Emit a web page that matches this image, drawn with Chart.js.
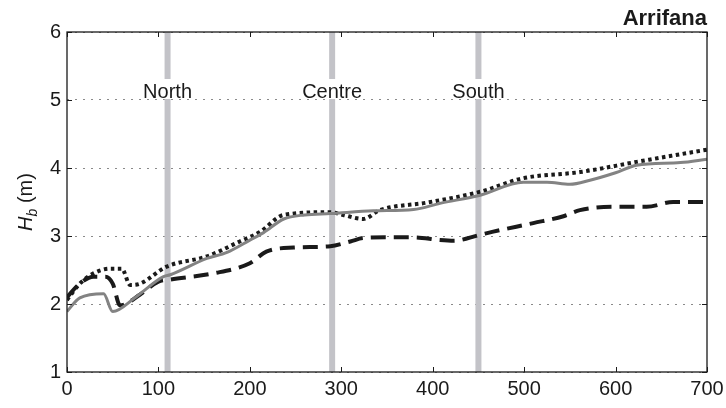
<!DOCTYPE html>
<html>
<head>
<meta charset="utf-8">
<script src="https://cdn.jsdelivr.net/npm/chart.js@4/dist/chart.umd.min.js"></script>
<style>
  html, body { margin: 0; padding: 0; background: #fff; }
  #chart { display: block; }
</style>
</head>
<body>
<canvas id="chart" width="726" height="408"></canvas>
<script>
// Data (x = alongshore distance, y = Hb in m)
const solidX = [0, 14, 40, 50, 75, 105, 113, 153, 175, 200, 215, 237, 260, 288, 335, 379, 408, 452, 499, 525, 550, 572, 600, 623, 671, 700];
const solidY = [1.89, 2.09, 2.15, 1.89, 2.10, 2.40, 2.43, 2.67, 2.76, 2.94, 3.05, 3.25, 3.31, 3.33, 3.37, 3.39, 3.48, 3.60, 3.79, 3.79, 3.76, 3.82, 3.93, 4.04, 4.08, 4.13];

const dottedX = [0, 14, 29, 47, 60, 69, 80, 109, 153, 189, 211, 237, 288, 302, 324, 342, 393, 452, 499, 561, 623, 700];
const dottedY = [2.06, 2.30, 2.45, 2.52, 2.52, 2.28, 2.30, 2.55, 2.70, 2.92, 3.06, 3.31, 3.35, 3.31, 3.25, 3.38, 3.49, 3.65, 3.85, 3.94, 4.09, 4.27];

const dashedX = [0, 14, 29, 42, 50, 58, 80, 100, 113, 160, 200, 218, 248, 288, 310, 324, 353, 379, 408, 423, 450, 465, 510, 543, 561, 598, 634, 663, 700];
const dashedY = [2.10, 2.30, 2.40, 2.40, 2.30, 1.98, 2.14, 2.33, 2.36, 2.45, 2.60, 2.77, 2.83, 2.85, 2.92, 2.97, 2.98, 2.98, 2.94, 2.93, 3.01, 3.06, 3.19, 3.29, 3.38, 3.43, 3.43, 3.50, 3.50];

// Section markers
const sectionNames = ['North', 'Centre', 'South'];
const sectionX = [110, 290, 450];

const xTicks = [0, 100, 200, 300, 400, 500, 600, 700];
const yTicks = [1, 2, 3, 4, 5, 6];
const title = 'Arrifana';

const FONT = '"Liberation Sans", Arial, Helvetica, sans-serif';
const INK = '#1a1a1a';

function toPoints(xs, ys) {
    return xs.map((x, i) => ({ x: x, y: ys[i] }));
}

// Gray vertical bands, one dataset each
const bandSets = sectionX.map(x => ({
    data: [{ x: x, y: 1 }, { x: x, y: 6 }],
    borderColor: '#c3c3c8',
    borderWidth: 6,
    pointRadius: 0,
    order: 10
}));

// Box, inward ticks, section labels, title and y label
const decorPlugin = {
    id: 'decor',
    afterDatasetsDraw(chart) {
        const ctx = chart.ctx;
        const area = chart.chartArea;
        const xs = chart.scales.x;
        const ys = chart.scales.y;

        // section labels on white boxes
        ctx.save();
        ctx.font = '20px ' + FONT;
        ctx.textAlign = 'center';
        ctx.textBaseline = 'alphabetic';
        const labelY = ys.getPixelForValue(5) - 2;
        sectionNames.forEach((name, i) => {
            const px = xs.getPixelForValue(sectionX[i]);
            const w = ctx.measureText(name).width;
            ctx.fillStyle = '#fff';
            ctx.fillRect(px - w / 2 - 2, labelY - 19, w + 4, 20);
            ctx.fillStyle = INK;
            ctx.fillText(name, px, labelY);
        });
        ctx.restore();

        // frame
        ctx.save();
        ctx.strokeStyle = INK;
        ctx.lineWidth = 1.3;
        ctx.strokeRect(area.left, area.top, area.right - area.left, area.bottom - area.top);

        // inward ticks
        const tl = 5;
        ctx.beginPath();
        xTicks.forEach(v => {
            const px = Math.round(xs.getPixelForValue(v)) + 0.5;
            ctx.moveTo(px, area.bottom);
            ctx.lineTo(px, area.bottom - tl);
            ctx.moveTo(px, area.top);
            ctx.lineTo(px, area.top + tl);
        });
        yTicks.forEach(v => {
            const py = Math.round(ys.getPixelForValue(v)) + 0.5;
            ctx.moveTo(area.left, py);
            ctx.lineTo(area.left + tl, py);
            ctx.moveTo(area.right, py);
            ctx.lineTo(area.right - tl, py);
        });
        ctx.lineWidth = 1;
        ctx.stroke();
        ctx.restore();
    },
    afterDraw(chart) {
        const ctx = chart.ctx;
        const area = chart.chartArea;

        // title
        ctx.save();
        ctx.font = 'bold 22px ' + FONT;
        ctx.fillStyle = INK;
        ctx.textAlign = 'right';
        ctx.textBaseline = 'alphabetic';
        ctx.fillText(title, area.right, 25);
        ctx.restore();

        // y label: H_b (m), rotated
        ctx.save();
        const midY = (area.top + area.bottom) / 2;
        ctx.translate(32, midY);
        ctx.rotate(-Math.PI / 2);
        ctx.fillStyle = INK;
        ctx.textBaseline = 'alphabetic';
        const fH = 'italic 20px ' + FONT;
        const fB = 'italic 14px ' + FONT;
        const fM = '20px ' + FONT;
        ctx.font = fH; const wH = ctx.measureText('H').width;
        ctx.font = fB; const wB = ctx.measureText('b').width;
        ctx.font = fM; const wM = ctx.measureText(' (m)').width;
        let x0 = -(wH + wB + wM) / 2;
        ctx.font = fH; ctx.fillText('H', x0, 0); x0 += wH;
        ctx.font = fB; ctx.fillText('b', x0, 5); x0 += wB;
        ctx.font = fM; ctx.fillText(' (m)', x0, 0);
        ctx.restore();
    }
};

const chart = new Chart(document.getElementById('chart').getContext('2d'), {
    type: 'line',
    data: {
        datasets: [
            {
                label: 'solid',
                data: toPoints(solidX, solidY),
                borderColor: '#838383',
                borderWidth: 3,
                pointRadius: 0,
                cubicInterpolationMode: 'monotone',
                order: 1
            },
            {
                label: 'dotted',
                data: toPoints(dottedX, dottedY),
                borderColor: INK,
                borderWidth: 4,
                borderDash: [3.5, 3.5],
                pointRadius: 0,
                cubicInterpolationMode: 'monotone',
                order: 2
            },
            {
                label: 'dashed',
                data: toPoints(dashedX, dashedY),
                borderColor: INK,
                borderWidth: 4,
                borderDash: [15, 8],
                pointRadius: 0,
                cubicInterpolationMode: 'monotone',
                order: 3
            },
            ...bandSets
        ]
    },
    options: {
        responsive: false,
        animation: false,
        layout: { padding: { top: 32, right: 0, left: 0, bottom: 0 } },
        plugins: {
            legend: { display: false },
            tooltip: { enabled: false }
        },
        scales: {
            x: {
                type: 'linear',
                min: 0,
                max: 700,
                afterBuildTicks: scale => { scale.ticks = xTicks.map(v => ({ value: v })); },
                afterFit: scale => {
                    scale.height = 36;
                    scale.paddingLeft = 0;
                    scale.paddingRight = 19;
                },
                grid: { display: false, drawTicks: false },
                border: { display: false },
                ticks: {
                    padding: 5,
                    color: INK,
                    font: { family: FONT, size: 20 },
                    maxRotation: 0
                }
            },
            y: {
                type: 'linear',
                min: 1,
                max: 6,
                afterBuildTicks: scale => { scale.ticks = yTicks.map(v => ({ value: v })); },
                afterFit: scale => { scale.width = 67; },
                grid: { color: '#8a8a8a', lineWidth: 1, drawTicks: false },
                border: { display: false, dash: [2, 6] },
                ticks: {
                    padding: 6,
                    color: INK,
                    font: { family: FONT, size: 20 }
                }
            }
        }
    },
    plugins: [decorPlugin]
});
</script>
</body>
</html>
